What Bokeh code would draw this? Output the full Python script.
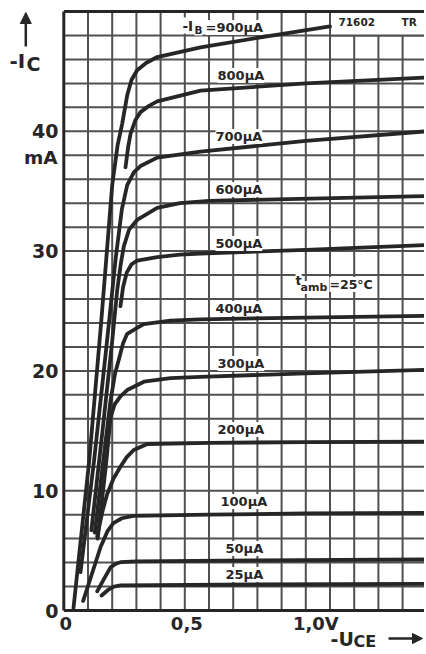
from bokeh.plotting import figure
from bokeh.models import Label, Arrow, NormalHead, Range1d
from bokeh.embed import file_html
from bokeh.resources import INLINE

# ---------------- data ----------------
# -U_CE in volts, -I_C in mA, one characteristic per base current
v_900 = [0.040, 0.105, 0.155, 0.200, 0.222, 0.241, 0.262, 0.280, 0.303, 0.340, 0.386, 0.565, 0.800, 1.100]
i_900 = [0.2, 12.5, 24.2, 35.5, 38.8, 40.6, 43.0, 44.3, 45.1, 45.7, 46.2, 47.0, 47.8, 48.75]

v_800 = [0.255, 0.266, 0.276, 0.295, 0.317, 0.350, 0.386, 0.565, 1.000, 1.500]
i_800 = [37.0, 38.7, 39.8, 40.9, 41.6, 42.1, 42.5, 43.4, 44.0, 44.5]

v_700 = [0.069, 0.125, 0.176, 0.215, 0.240, 0.262, 0.290, 0.317, 0.386, 0.565, 1.000, 1.500]
i_700 = [3.2, 12.5, 22.0, 29.5, 33.5, 35.5, 36.6, 37.1, 37.8, 38.3, 39.2, 40.0]

v_600 = [0.114, 0.160, 0.200, 0.221, 0.236, 0.248, 0.270, 0.303, 0.386, 0.480, 0.600, 1.500]
i_600 = [6.7, 15.0, 22.5, 26.8, 29.0, 30.4, 31.8, 32.6, 33.6, 34.0, 34.2, 34.6]

v_500 = [0.234, 0.245, 0.260, 0.280, 0.303, 0.386, 0.480, 0.565, 1.000, 1.500]
i_500 = [25.4, 27.0, 28.2, 28.9, 29.2, 29.5, 29.7, 29.8, 30.1, 30.5]

v_400 = [0.128, 0.163, 0.193, 0.212, 0.227, 0.245, 0.262, 0.303, 0.331, 0.441, 0.565, 1.000, 1.500]
i_400 = [6.5, 12.5, 17.5, 19.8, 20.9, 22.3, 23.1, 23.6, 23.9, 24.2, 24.3, 24.45, 24.6]

v_300 = [0.140, 0.176, 0.193, 0.210, 0.235, 0.262, 0.331, 0.441, 0.565, 1.000, 1.500]
i_300 = [6.0, 12.5, 16.1, 17.2, 17.9, 18.4, 19.1, 19.4, 19.5, 19.8, 20.1]

v_200 = [0.138, 0.160, 0.179, 0.205, 0.234, 0.260, 0.289, 0.345, 0.600, 1.000, 1.500]
i_200 = [6.2, 8.3, 9.7, 11.0, 12.0, 12.8, 13.4, 13.9, 14.0, 14.05, 14.1]

v_100 = [0.080, 0.120, 0.152, 0.180, 0.205, 0.240, 0.288, 0.600, 1.000, 1.500]
i_100 = [0.8, 3.3, 5.3, 6.6, 7.3, 7.7, 7.9, 8.0, 8.1, 8.15]

v_50 = [0.138, 0.165, 0.193, 0.215, 0.234, 0.300, 0.800, 1.500]
i_50 = [1.6, 2.6, 3.6, 3.9, 4.03, 4.1, 4.18, 4.26]

v_25 = [0.156, 0.185, 0.207, 0.235, 0.800, 1.500]
i_25 = [1.25, 1.75, 2.0, 2.1, 2.17, 2.23]

curve_labels = ["=900µA", "800µA", "700µA", "600µA", "500µA", "400µA",
                "300µA", "200µA", "100µA", "50µA", "25µA"]

x_tick_values = [0, 0.5, 1.0]
x_tick_labels = ["0", "0,5", "1,0V"]
y_tick_values = [0, 10, 20, 30, 40]
y_tick_labels = ["0", "10", "20", "30", "40"]
x_grid_values = [0.1, 0.2, 0.3, 0.4, 0.5, 0.6, 0.7, 0.8, 0.9, 1.0, 1.1, 1.2, 1.3, 1.4, 1.5]
y_grid_values = [2, 4, 6, 8, 10, 12, 14, 16, 18, 20, 22, 24, 26, 28, 30, 32, 34, 36, 38,
                 40, 42, 44, 46, 48]
x_max, y_max = 1.6, 50
y_unit = "mA"
temp_text = "=25°C"
code_text = "71602"
code_text2 = "TR"

# ---------------- layout helpers ----------------
W, H = 424, 652
PX0, PXS = 63.3, 242.0     # page x of 0 V, px per volt
PY0, PYS = 610.0, 11.98    # page y of 0 mA, px per mA


def vx(px):
    return (px - PX0) / PXS


def iy(py):
    return (PY0 - py) / PYS


INK = "#262626"
GRID = "#505050"
FONT = "DejaVu Sans"

p = figure(width=W, height=H, x_range=Range1d(vx(0), vx(W)), y_range=Range1d(iy(H), iy(0)),
           output_backend="svg", toolbar_location=None, title=None,
           min_border=0, min_border_left=0, min_border_right=0, min_border_top=0,
           min_border_bottom=0)
p.axis.visible = False
p.grid.visible = False
p.background_fill_color = "white"
p.border_fill_color = "white"
p.outline_line_color = None

# grid of the chart area
p.multi_line(xs=[[g, g] for g in x_grid_values], ys=[[0, y_max] for g in x_grid_values],
             line_color=GRID, line_width=2)
p.multi_line(xs=[[0, x_max] for g in y_grid_values], ys=[[g, g] for g in y_grid_values],
             line_color=GRID, line_width=2)

# reference box top-right
box_left, box_bottom = 1.1, 48.0
p.quad(left=[box_left], right=[x_max], bottom=[box_bottom], top=[y_max], fill_color="white",
       line_color=GRID, line_width=2)

# frame edges
p.multi_line(xs=[[0, 0], [0, x_max], [0, x_max]], ys=[[0, y_max], [0, 0], [y_max, y_max]],
             line_color=INK, line_width=3)

series = [(v_900, i_900), (v_800, i_800), (v_700, i_700), (v_600, i_600),
          (v_500, i_500), (v_400, i_400), (v_300, i_300), (v_200, i_200),
          (v_100, i_100), (v_50, i_50), (v_25, i_25)]
for vs, cs in series:
    p.line(vs, cs, line_color=INK, line_width=3.8, line_cap="round", line_join="round")


def lab(text, px, py, size, align="left", bg=True, color=INK):
    kw = dict(background_fill_color="white") if bg else {}
    p.add_layout(Label(x=vx(px), y=iy(py), text=text, text_font=FONT,
                       text_font_style="bold", text_font_size=f"{size}px",
                       text_align=align, text_baseline="middle",
                       text_color=color, **kw))


# curve labels (page positions of their left edges / centres)
label_pos = [(205, 27), (217, 75), (215, 136), (215, 189), (215, 243), (215, 308),
             (217, 363), (217, 429), (220, 501), (225, 548), (225, 574)]
lab("-I", 182, 25, 13.5)
lab("B", 194, 29, 10.5)
for text, (px, py) in zip(curve_labels, label_pos):
    lab(text, px, py, 13)

# ambient temperature
lab("t", 295, 280, 13)
lab("amb", 300, 287, 11)
lab(temp_text, 329, 284, 12.5)

# box text
lab(code_text, 338, 21, 10.5, bg=False)
lab(code_text2, 401, 21, 10.5, bg=False)

# y tick labels
for val, text in zip(y_tick_values, y_tick_labels):
    p.add_layout(Label(x=vx(58), y=val, text=text, text_font=FONT,
                       text_font_style="bold", text_font_size="19px",
                       text_align="right", text_baseline="middle", text_color=INK))
lab(y_unit, 57, 157, 18.5, align="right", bg=False)

# x tick labels
x_offsets = [2, 2, 10]
for val, text, off in zip(x_tick_values, x_tick_labels, x_offsets):
    p.add_layout(Label(x=val, y=iy(623), x_offset=off, text=text, text_font=FONT,
                       text_font_style="bold", text_font_size="18px",
                       text_align="center", text_baseline="middle", text_color=INK))

# axis titles
lab("-I", 9, 60, 20, bg=False)
lab("C", 26, 63, 19, bg=False)
p.add_layout(Arrow(end=NormalHead(size=11, fill_color=INK, line_color=INK),
                   x_start=vx(25.3), y_start=iy(46), x_end=vx(25.3), y_end=iy(12),
                   line_color=INK, line_width=2.5))

lab("-U", 330, 638, 19, bg=False)
lab("CE", 353, 641, 16, bg=False)
p.add_layout(Arrow(end=NormalHead(size=10, fill_color=INK, line_color=INK),
                   x_start=vx(388), y_start=iy(638), x_end=vx(422), y_end=iy(638),
                   line_color=INK, line_width=2.5))

open("out.html", "w").write(file_html(p, INLINE))
